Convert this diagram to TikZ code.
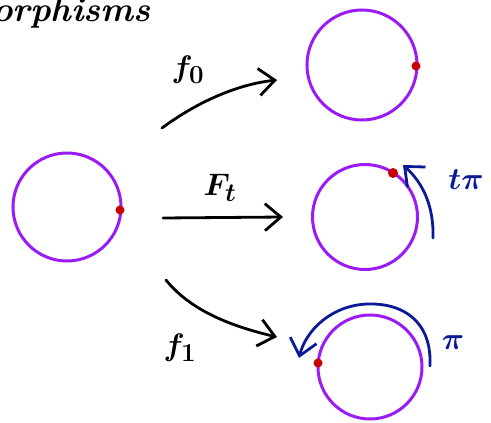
\documentclass[tikz,border=0pt]{standalone}
\usepackage{amsmath,amssymb}
\usetikzlibrary{arrows.meta}
\definecolor{ringpurple}{HTML}{9B1BF5}
\definecolor{dotred}{HTML}{C80000}
\definecolor{inkblue}{HTML}{0A1A96}

\begin{document}
\begin{tikzpicture}[x=1pt,y=-1pt,>={Straight Barb[length=5.6mm,width=9.5mm]},
    ring/.style={circle,draw=ringpurple,line width=3pt,inner sep=0pt},
    mark dot/.style={circle,fill=dotred,inner sep=0pt,minimum size=9pt},
    map/.style={line width=2.8pt,line cap=round,->},
    turn/.style={inkblue,line width=2.8pt,line cap=round,->},
    lbl/.style={font=\Huge,scale=1.25}]
        \useasboundingbox (0,0) rectangle (491,423);
        \clip (0,0) rectangle (491,423);
        % cut-off heading
        \node[anchor=base west,inner sep=0pt,font=\Huge\itshape\bfseries,scale=1.4] (head) at (-8,21) {orphisms};
        % circles
        \node[ring,minimum size=108pt] (src) at (67,207) {};
        \node[ring,minimum size=110pt] (tgt0) at (362,65) {};
        \node[ring,minimum size=105pt] (tgtt) at (365,217) {};
        \node[ring,minimum size=104pt] (tgt1) at (370,367) {};
        % marked points
        \node[mark dot] (p) at (120,210) {};
        \node[mark dot] (p0) at (416,66) {};
        \node[mark dot,minimum size=10pt] (pt) at (393,173) {};
        \node[mark dot] (p1) at (318,363) {};
        % maps
        \coordinate (a0) at (162,128); \coordinate (b0) at (277,80);
        \coordinate (at) at (163,218); \coordinate (bt) at (283,217);
        \coordinate (a1) at (166,280); \coordinate (b1) at (277,337);
        \draw[map] (a0) .. controls (200,100) and (240,84) .. (b0);
        \draw[map] (at) -- (bt);
        \draw[map] (a1) .. controls (190,310) and (230,326) .. (b1);
        \node[lbl] (l0) at (188,70) {$\boldsymbol{f_0}$};
        \node[lbl] (lt) at (220,188) {$\boldsymbol{F_t}$};
        \node[lbl] (l1) at (180,348) {$\boldsymbol{f_1}$};
        % rotations
        \coordinate (ct) at (433,238); \coordinate (dt) at (403,165);
        \draw[turn] (ct) .. controls (434,205) and (422,182) .. (dt);
        \node[lbl,text=inkblue] (rt) at (466,180) {$\boldsymbol{t\pi}$};
        \coordinate (c1) at (430,366); \coordinate (m1) at (368,304); \coordinate (d1) at (299,358);
        \draw[turn] (c1) .. controls (432,322) and (404,303) .. (m1) .. controls (332,305) and (306,330) .. (d1);
        \node[lbl,text=inkblue] (r1) at (453,343) {$\boldsymbol{\pi}$};
      \end{tikzpicture}
\end{document}
